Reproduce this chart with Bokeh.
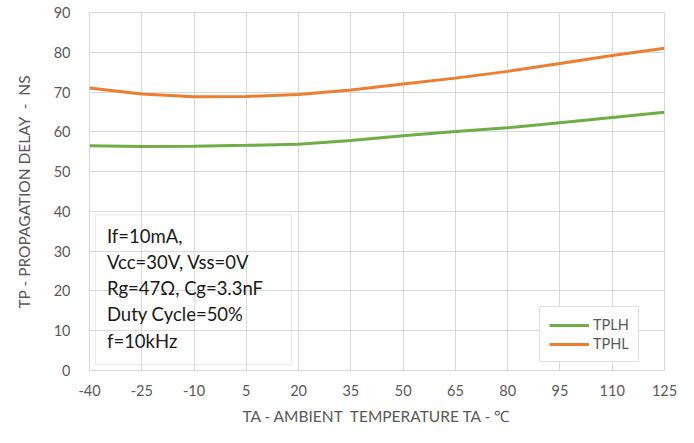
from bokeh.plotting import figure
from bokeh.models import FixedTicker, Range1d, Legend, LegendItem, BoxAnnotation, Label
from bokeh.embed import file_html
from bokeh.resources import INLINE

temps = [-40, -25, -10, 5, 20, 35, 50, 65, 80, 95, 110, 125]
temp_labels = ["-40", "-25", "-10", "5", "20", "35", "50", "65", "80", "95", "110", "125"]
tplh = [56.5, 56.3, 56.4, 56.6, 56.9, 57.8, 59.0, 60.1, 61.0, 62.3, 63.6, 64.9]
tphl = [71.0, 69.5, 68.8, 68.9, 69.4, 70.5, 72.0, 73.5, 75.2, 77.2, 79.2, 81.0]
y_ticks = [0, 10, 20, 30, 40, 50, 60, 70, 80, 90]
notes = ["If=10mA,", "Vcc=30V, Vss=0V", "Rg=47\u03a9, Cg=3.3nF", "Duty Cycle=50%", "f=10kHz"]

GREEN = "#70AD47"
ORANGE = "#ED7D31"
GREY = "#595959"
FONT = "Lato"

p = figure(width=678, height=427, output_backend="svg", toolbar_location=None,
           x_range=Range1d(temps[0], temps[-1]), y_range=Range1d(y_ticks[0], y_ticks[-1]),
           min_border_left=89, min_border_top=12, min_border_right=14, min_border_bottom=55)
p.outline_line_color = "#D9D9D9"
p.background_fill_color = "white"
p.border_fill_color = "white"

p.xaxis.ticker = FixedTicker(ticks=temps)
p.xaxis.major_label_overrides = {t: s for t, s in zip(temps, temp_labels)}
p.yaxis.ticker = FixedTicker(ticks=y_ticks)
for ax in (p.xaxis[0], p.yaxis[0]):
    ax.axis_line_color = None
    ax.major_tick_line_color = None
    ax.minor_tick_line_color = None
    ax.major_label_text_font = FONT
    ax.major_label_text_font_size = "14.5px"
    ax.major_label_text_color = GREY
    ax.axis_label_text_font = FONT
    ax.axis_label_text_color = GREY
    ax.axis_label_text_font_style = "normal"
p.xaxis.axis_label_text_font_size = "15.5px"
p.yaxis.axis_label_text_font_size = "15.5px"
p.xaxis.major_label_standoff = 8
p.yaxis.major_label_standoff = 13
p.xaxis.axis_label = "TA - AMBIENT \u00a0TEMPERATURE TA - \u2103"
p.yaxis.axis_label = "TP - PROPAGATION DELAY \u00a0- \u00a0NS"
p.xaxis.axis_label_standoff = 8
p.yaxis.axis_label_standoff = 18

p.xgrid.grid_line_color = "#D9D9D9"
p.ygrid.grid_line_color = "#D9D9D9"

r1 = p.line(temps, tplh, line_color=GREEN, line_width=3)
r2 = p.line(temps, tphl, line_color=ORANGE, line_width=3)

# annotation box
box = BoxAnnotation(left=-38.3, right=18.0, bottom=1.5, top=39.1,
                    fill_alpha=0, line_color="#BFBFBF", line_width=1.2)
p.add_layout(box)
for i, t in enumerate(notes):
    p.add_layout(Label(x=-35.0, y=33.9 - i * 6.6, text=t,
                       text_font=FONT, text_font_size="18.5px", text_color="#1a1a1a",
                       text_baseline="middle"))

legend = Legend(items=[LegendItem(label="TPLH", renderers=[r1]),
                       LegendItem(label="TPHL", renderers=[r2])],
                location=(450, 8), glyph_width=40, glyph_height=16, label_standoff=4,
                padding=9, spacing=2, margin=0, label_height=16,
                label_text_font=FONT, label_text_font_size="14.5px", label_text_color=GREY,
                border_line_color="#BFBFBF", background_fill_alpha=1)
p.add_layout(legend, "center")

open("out.html", "w").write(file_html(p, INLINE))
